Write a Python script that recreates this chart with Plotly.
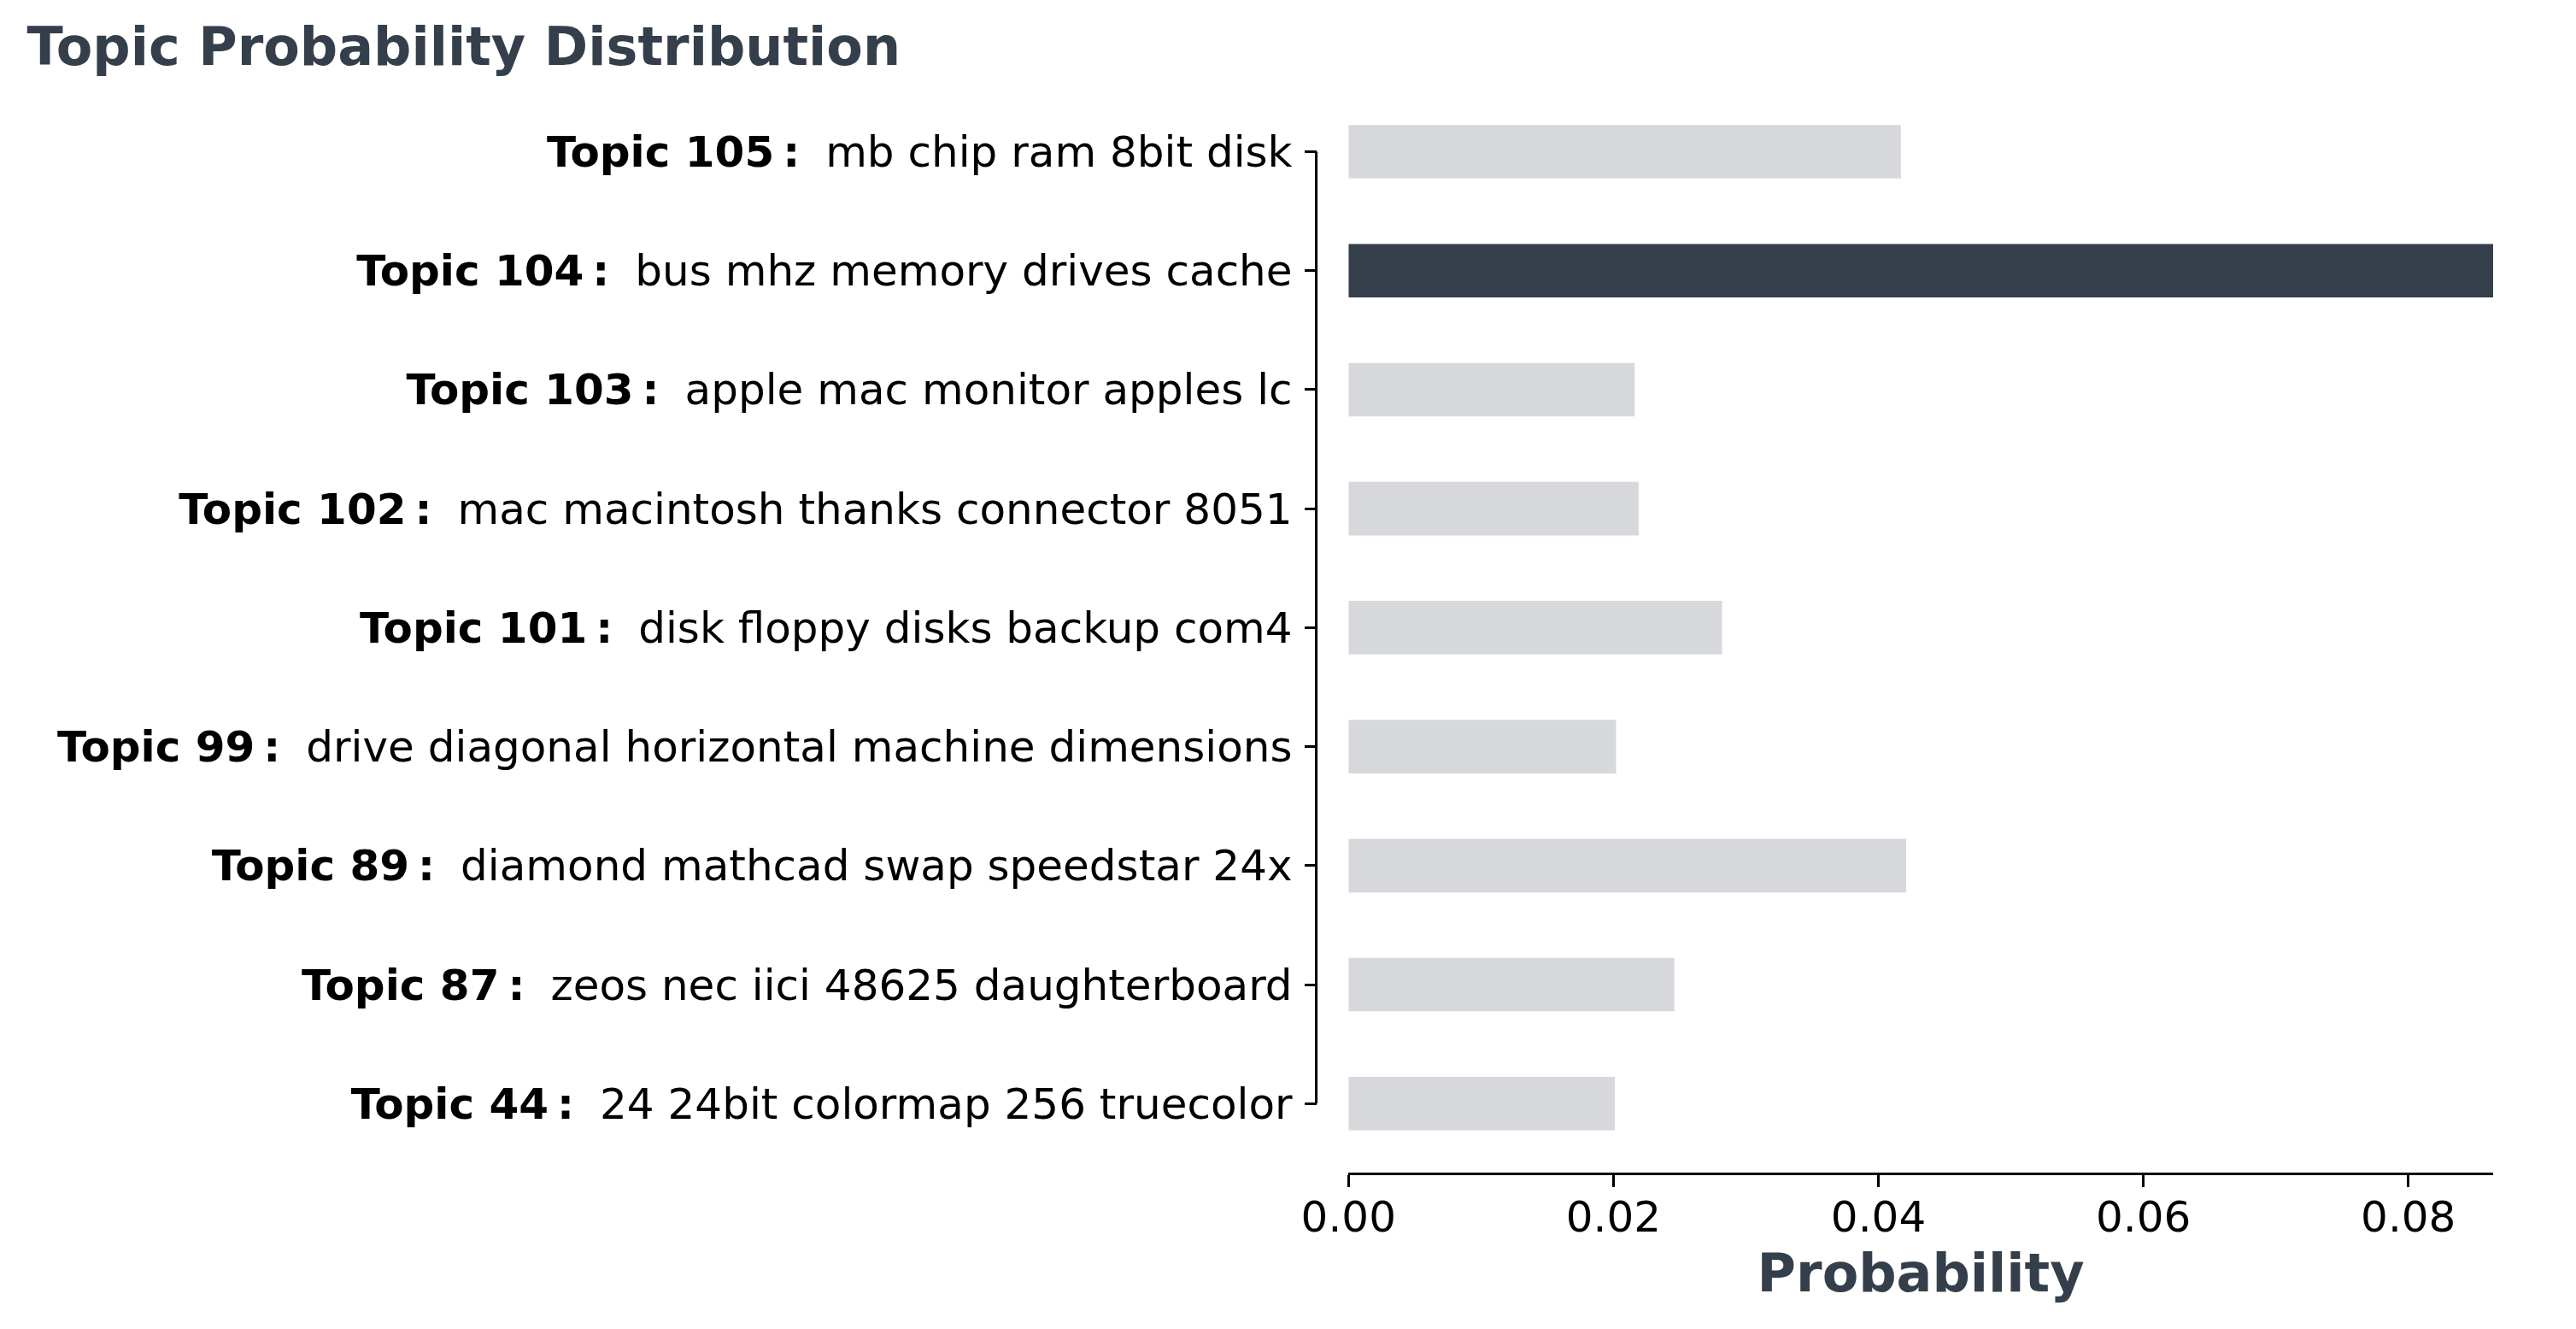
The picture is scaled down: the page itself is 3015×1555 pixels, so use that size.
import plotly.graph_objects as go

topic_ids = ["Topic 44", "Topic 87", "Topic 89", "Topic 99", "Topic 101",
             "Topic 102", "Topic 103", "Topic 104", "Topic 105"]
topic_words = ["24 24bit colormap 256 truecolor",
               "zeos nec iici 48625 daughterboard",
               "diamond mathcad swap speedstar 24x",
               "drive diagonal horizontal machine dimensions",
               "disk floppy disks backup com4",
               "mac macintosh thanks connector 8051",
               "apple mac monitor apples lc",
               "bus mhz memory drives cache",
               "mb chip ram 8bit disk"]
probabilities = [0.0201, 0.0246, 0.0421, 0.0202, 0.0282, 0.0219, 0.0216, 0.0864, 0.0417]
highlight_topic = "Topic 104"
x_ticks = [0.0, 0.02, 0.04, 0.06, 0.08]

DARK = "#343F4B"
LIGHT = "#D7D8DC"
FONT = "DejaVu Sans"

labels = [f"<b>{t}\u2009:</b>\u2002\u200a{w}" for t, w in zip(topic_ids, topic_words)]
colors = [DARK if t == highlight_topic else LIGHT for t in topic_ids]

W, H = 3015, 1555
OFF = 8  # browser body margin
ml, mr, mt = 1492, 104.6, 86
mb = H - (1371.7 - OFF)
pw = W - ml - mr
x_dom0 = (1578.3 - OFF - ml) / pw
y_pos = (1540.6 - OFF - ml) / pw

fig = go.Figure(go.Bar(
    x=probabilities, y=labels, orientation="h", width=0.45,
    marker=dict(color=colors, line=dict(width=0)),
))

fig.add_shape(type="line", xref="paper", yref="y",
              x0=y_pos, x1=y_pos, y0=0, y1=len(labels) - 1,
              line=dict(color="black", width=3))

fig.update_layout(
    width=W, height=H,
    margin=dict(l=ml, r=mr, t=mt, b=mb),
    plot_bgcolor="white", paper_bgcolor="white",
    showlegend=False,
    title=dict(text="<b>Topic Probability Distribution</b>",
               font=dict(family=FONT, size=62, color=DARK),
               x=(31.6 - OFF) / W, xanchor="left", xref="container",
               y=1 - (54 - OFF) / H, yanchor="middle", yref="container"),
    xaxis=dict(domain=[x_dom0, 1], range=[0, max(probabilities)],
               tickvals=x_ticks, tickformat=".2f",
               showline=True, linecolor="black", linewidth=3,
               ticks="outside", ticklen=14, tickwidth=3, tickcolor="black",
               ticklabelstandoff=-8,
               showgrid=False, zeroline=False,
               tickfont=dict(family=FONT, size=50, color="black"),
               title=dict(text="<b>Probability</b>", standoff=14,
                          font=dict(family=FONT, size=62, color=DARK))),
    yaxis=dict(anchor="free", position=y_pos, range=[-0.58, 8.6],
               showline=False, showgrid=False, zeroline=False,
               ticks="outside", ticklen=14, tickwidth=3, tickcolor="black",
               ticklabelstandoff=4,
               tickfont=dict(family=FONT, size=50, color="black")),
)

fig.write_html("out.html")
